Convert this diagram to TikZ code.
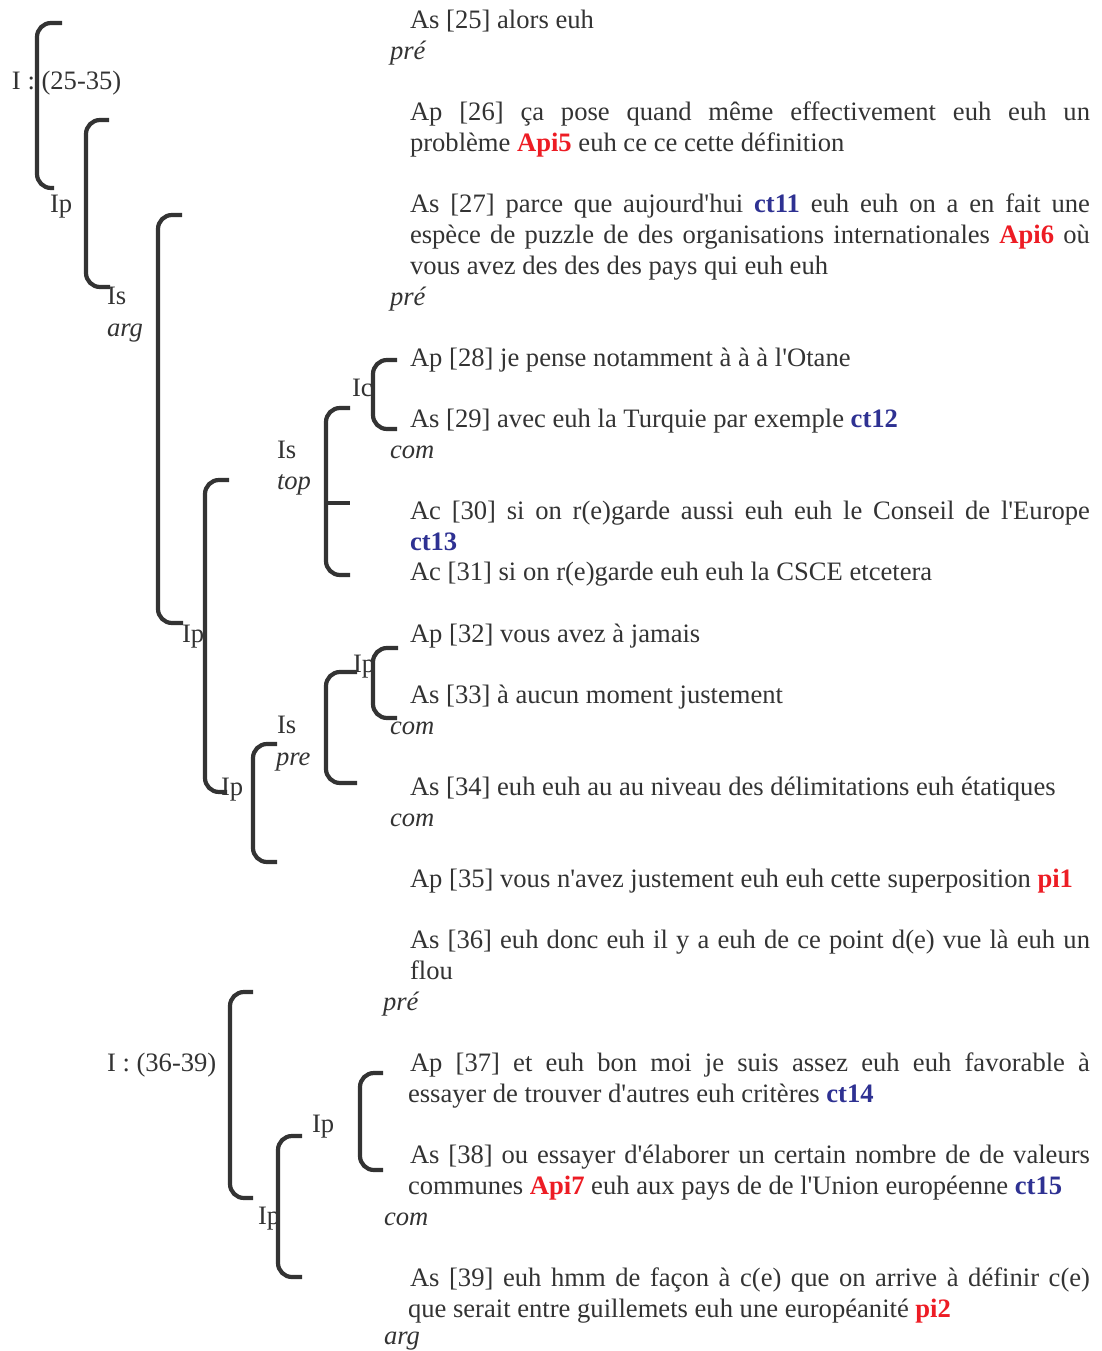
\documentclass[tikz,border=0pt]{standalone}
\usepackage{fontspec}
\newfontfamily\tnr{Liberation Serif}
\definecolor{tc}{HTML}{333333}
\definecolor{bc}{HTML}{333333}
\definecolor{rd}{HTML}{ED1C24}
\definecolor{bl}{HTML}{2E3192}
\newcommand{\R}[1]{\textcolor{rd}{\textbf{#1}}}
\newcommand{\B}[1]{\textcolor{bl}{\textbf{#1}}}
\newcommand{\J}[1]{\makebox[680pt][s]{#1}}
\tikzset{
  txt/.style={anchor=base west, inner sep=0pt, outer sep=0pt, text=tc, yshift=-1.5pt, font=\tnr\fontsize{26.6}{31}\selectfont},
  itx/.style={txt, font=\tnr\itshape\fontsize{26.6}{31}\selectfont},
  brk/.style={draw=bc, line width=4.2pt, rounded corners=14pt, line cap=butt}
}
\begin{document}
\begin{tikzpicture}[x=1pt,y=-1pt]
\useasboundingbox (0,0) rectangle (1102,1351);
% ---------- brackets ----------
\draw[brk] (62,23) -- (37,23) -- (37,188) -- (54,188);
\draw[brk] (109,120) -- (86,120) -- (86,287) -- (110,287);
\draw[brk] (182,215) -- (158,215) -- (158,623) -- (183,623);
\draw[brk] (397,360) -- (373,360) -- (373,429) -- (397,429);
\draw[brk] (350,408) -- (326,408) -- (326,575) -- (350,575);
\draw[bc, line width=4.2pt] (326,503) -- (350,503);
\draw[brk] (229,480) -- (205,480) -- (205,792) -- (227,792);
\draw[brk] (398,648) -- (373,648) -- (373,718) -- (397,718);
\draw[brk] (357,672) -- (326,672) -- (326,783) -- (357,783);
\draw[brk] (277,744) -- (253,744) -- (253,862) -- (277,862);
\draw[brk] (253,992) -- (230,992) -- (230,1198) -- (253,1198);
\draw[brk] (383,1073) -- (360,1073) -- (360,1170) -- (383,1170);
\draw[brk] (302,1136) -- (278,1136) -- (278,1277) -- (302,1277);
% ---------- left labels ----------
\node[txt] (l1) at (12,88) {I : (25-35)};
\node[txt] (l2) at (50,211) {Ip};
\node[txt] (l3) at (107,303) {Is};
\node[itx] (l4) at (107,335) {arg};
\node[txt] (l5) at (352,395) {Ic};
\node[txt] (l6) at (277,457) {Is};
\node[itx] (l7) at (277,488) {top};
\node[txt] (l8) at (182,641) {Ip};
\node[txt] (l9) at (353,671) {Ip};
\node[txt] (l10) at (277,732) {Is};
\node[itx] (l11) at (276,764) {pre};
\node[txt] (l12) at (221,794) {Ip};
\node[txt] (l13) at (107,1070) {I : (36-39)};
\node[txt] (l14) at (312,1131) {Ip};
\node[txt] (l15) at (258,1223) {Ip};
% ---------- right text ----------
\node[txt] (t1) at (410,27) {As [25] alors euh};
\node[itx] (t2) at (390,58) {pré};
\node[txt] (t3) at (410,119) {\J{Ap [26] ça pose quand même effectivement euh euh un}};
\node[txt] (t4) at (410,150) {problème \R{Api5} euh ce ce cette définition};
\node[txt] (t5) at (410,211) {\J{As [27] parce que aujourd'hui \B{ct11} euh euh on a en fait une}};
\node[txt] (t6) at (410,242) {\J{espèce de puzzle de des organisations internationales \R{Api6} où}};
\node[txt] (t7) at (410,273) {vous avez des des des pays qui euh euh};
\node[itx] (t8) at (390,304) {pré};
\node[txt] (t9) at (410,365) {Ap [28] je pense notamment à à à l'Otane};
\node[txt] (t10) at (410,426) {As [29] avec euh la Turquie par exemple \B{ct12}};
\node[itx] (t11) at (390,457) {com};
\node[txt] (t12) at (410,518) {\J{Ac [30] si on r(e)garde aussi euh euh le Conseil de l'Europe}};
\node[txt] (t13) at (410,549) {\B{ct13}};
\node[txt] (t14) at (410,579) {Ac [31] si on r(e)garde euh euh la CSCE etcetera};
\node[txt] (t15) at (410,641) {Ap [32] vous avez à jamais};
\node[txt] (t16) at (410,702) {As [33] à aucun moment justement};
\node[itx] (t17) at (390,733) {com};
\node[txt] (t18) at (410,794) {As [34] euh euh au au niveau des délimitations euh étatiques};
\node[itx] (t19) at (390,825) {com};
\node[txt] (t20) at (410,886) {Ap [35] vous n'avez justement euh euh cette superposition \R{pi1}};
\node[txt] (t21) at (410,947) {\J{As [36] euh donc euh il y a euh de ce point d(e) vue là euh un}};
\node[txt] (t22) at (410,978) {flou};
\node[itx] (t23) at (383,1009) {pré};
\node[txt] (t24) at (410,1070) {\J{Ap [37] et euh bon moi je suis assez euh euh favorable à}};
\node[txt] (t25) at (408,1101) {essayer de trouver d'autres euh critères \B{ct14}};
\node[txt] (t26) at (410,1162) {\J{As [38] ou essayer d'élaborer un certain nombre de de valeurs}};
\node[txt] (t27) at (408,1193) {communes \R{Api7} euh aux pays de de l'Union européenne \B{ct15}};
\node[itx] (t28) at (384,1224) {com};
\node[txt] (t29) at (410,1285) {\J{As [39] euh hmm de façon à c(e) que on arrive à définir c(e)}};
\node[txt] (t30) at (408,1316) {que serait entre guillemets euh une européanité \R{pi2}};
\node[itx] (t31) at (384,1343) {arg};
\end{tikzpicture}
\end{document}
